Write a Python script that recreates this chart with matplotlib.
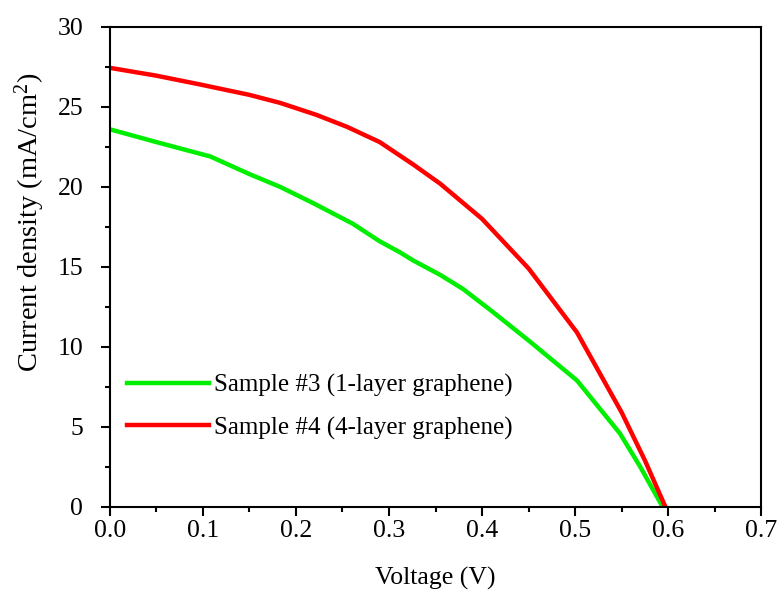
import matplotlib.pyplot as plt
from matplotlib.ticker import MultipleLocator

# J-V curves
v_s3 = [0.0, 0.05, 0.108, 0.15, 0.183, 0.218, 0.261, 0.29, 0.312, 0.326,
        0.355, 0.38, 0.39, 0.409, 0.45, 0.502, 0.548, 0.57, 0.594]
j_s3 = [23.6, 22.8, 21.9, 20.8, 20.0, 19.0, 17.7, 16.6, 15.9, 15.4,
        14.5, 13.6, 13.15, 12.3, 10.4, 7.9, 4.6, 2.5, 0.0]

v_s4 = [0.0, 0.05, 0.097, 0.15, 0.183, 0.222, 0.255, 0.29, 0.326, 0.355,
        0.4, 0.45, 0.502, 0.55, 0.575, 0.597]
j_s4 = [27.44, 26.95, 26.4, 25.75, 25.25, 24.5, 23.75, 22.8, 21.4, 20.2,
        18.0, 14.9, 10.9, 5.9, 2.9, 0.0]

labels = ["Sample #3 (1-layer graphene)", "Sample #4 (4-layer graphene)"]

plt.rcParams['font.family'] = ['Liberation Serif', 'DejaVu Serif']
plt.rcParams['mathtext.fontset'] = 'custom'
plt.rcParams['mathtext.rm'] = 'Liberation Serif'
plt.rcParams['mathtext.default'] = 'regular'

fig = plt.figure(figsize=(7.84, 5.97), dpi=100)
ax = fig.add_axes([0.140, 0.151, 0.831, 0.804])

ax.plot(v_s3, j_s3, color='#00ee00', lw=3.2, label=labels[0])
ax.plot(v_s4, j_s4, color='#ff0000', lw=3.2, label=labels[1])

ax.set_xlim(0, 0.7)
ax.set_ylim(0, 30)
ax.xaxis.set_major_locator(MultipleLocator(0.1))
ax.xaxis.set_minor_locator(MultipleLocator(0.05))
ax.yaxis.set_major_locator(MultipleLocator(5))
ax.yaxis.set_minor_locator(MultipleLocator(2.5))
ax.xaxis.set_major_formatter(plt.FuncFormatter(lambda x, p: '%.1f' % x))

for s in ax.spines.values():
    s.set_linewidth(1.5)
ax.tick_params(which='major', direction='out', length=6.5, width=1.5, labelsize=18.5)
ax.tick_params(which='minor', direction='out', length=3.5, width=1.5)
ax.tick_params(axis='y', which='major', pad=12.5)
ax.tick_params(axis='x', which='major', pad=3)

ax.set_xlabel('Voltage (V)', fontsize=18.5, labelpad=18)
ax.set_ylabel('Current density (mA/cm$^{2}$)', fontsize=20.5)
ax.yaxis.set_label_coords(-0.096, 0.594)

ax.legend(loc='upper left', bbox_to_anchor=(0.026, 0.277), frameon=False,
          fontsize=18, handlelength=3.3, handletextpad=0.2,
          labelspacing=0.78, borderpad=0, borderaxespad=0)

fig.savefig('out.png', dpi=100)
